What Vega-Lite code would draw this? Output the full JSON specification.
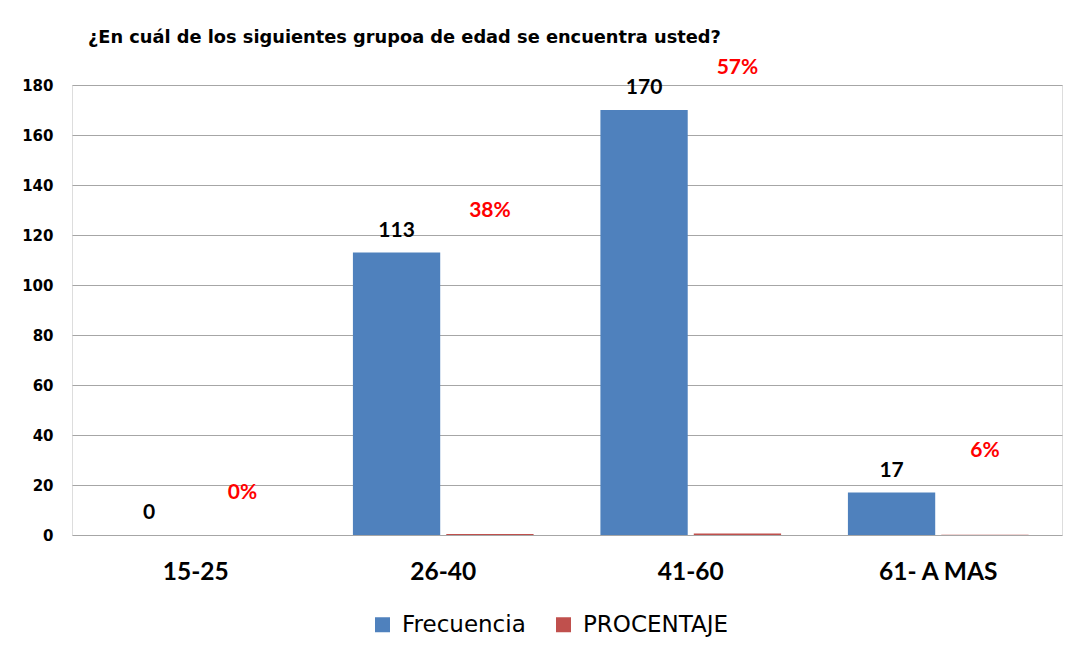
{
  "$schema": "https://vega.github.io/schema/vega-lite/v6.json",
  "width": 990,
  "height": 450,
  "autosize": {"type": "none"},
  "padding": {"left": 72, "top": 85, "right": 10, "bottom": 118},
  "background": "white",
  "title": {
    "text": "¿En cuál de los siguientes grupoa de edad se encuentra usted?",
    "anchor": "start",
    "frame": "group",
    "dx": 16,
    "offset": 10,
    "font": "DejaVu Sans",
    "fontSize": 17.8,
    "fontWeight": "bold",
    "color": "black"
  },
  "data": {
    "values": [
      {"grupo": "15-25", "Frecuencia": 0, "PROCENTAJE": 0.0, "pct": "0%"},
      {"grupo": "26-40", "Frecuencia": 113, "PROCENTAJE": 0.38, "pct": "38%"},
      {"grupo": "41-60", "Frecuencia": 170, "PROCENTAJE": 0.57, "pct": "57%"},
      {"grupo": "61- A MAS", "Frecuencia": 17, "PROCENTAJE": 0.06, "pct": "6%"}
    ]
  },
  "encoding": {
    "x": {
      "field": "grupo",
      "type": "nominal",
      "sort": null,
      "scale": {"paddingInner": 0.27, "paddingOuter": 0.135},
      "axis": {
        "title": null,
        "labelAngle": 0,
        "labelFont": "Lato",
        "labelFontSize": 24.5,
        "labelFontWeight": "bold",
        "labelColor": "black",
        "labelPadding": 25,
        "ticks": false,
        "domain": false
      }
    }
  },
  "layer": [
    {
      "transform": [{"fold": ["Frecuencia", "PROCENTAJE"], "as": ["serie", "valor"]}],
      "mark": {"type": "bar"},
      "encoding": {
        "xOffset": {"field": "serie", "type": "nominal", "scale": {"paddingInner": 0.065}},
        "y": {
          "field": "valor",
          "type": "quantitative",
          "scale": {"domain": [0, 180]},
          "axis": {
            "title": null,
            "values": [0, 20, 40, 60, 80, 100, 120, 140, 160, 180],
            "labelFont": "DejaVu Sans",
            "labelFontSize": 15,
            "labelFontWeight": "bold",
            "labelColor": "black",
            "labelPadding": 19,
            "ticks": false,
            "domain": false,
            "gridColor": "#a6a6a6",
            "gridWidth": 1.2
          }
        },
        "color": {
          "field": "serie",
          "type": "nominal",
          "scale": {"domain": ["Frecuencia", "PROCENTAJE"], "range": ["#4f81bd", "#c0504d"]},
          "legend": {
            "title": null,
            "orient": "none",
            "legendX": 299,
            "legendY": 528,
            "direction": "horizontal",
            "symbolType": "square",
            "symbolSize": 225,
            "symbolStrokeWidth": 0,
            "labelFont": "DejaVu Sans",
            "labelFontSize": 23,
            "labelColor": "black",
            "labelOffset": 8,
            "columnPadding": 26
          }
        }
      }
    },
    {
      "mark": {"type": "text", "font": "Lato", "fontSize": 21, "fontWeight": "bold", "color": "black", "baseline": "alphabetic", "dy": -16},
      "encoding": {
        "xOffset": {"datum": "Frecuencia"},
        "y": {"field": "Frecuencia", "type": "quantitative"},
        "text": {"field": "Frecuencia", "type": "quantitative"}
      }
    },
    {
      "mark": {"type": "text", "font": "Lato", "fontSize": 21, "fontWeight": "bold", "color": "#ff0000", "baseline": "alphabetic", "dy": -36},
      "encoding": {
        "xOffset": {"datum": "PROCENTAJE"},
        "y": {"field": "Frecuencia", "type": "quantitative"},
        "text": {"field": "pct", "type": "nominal"}
      }
    }
  ]
}
